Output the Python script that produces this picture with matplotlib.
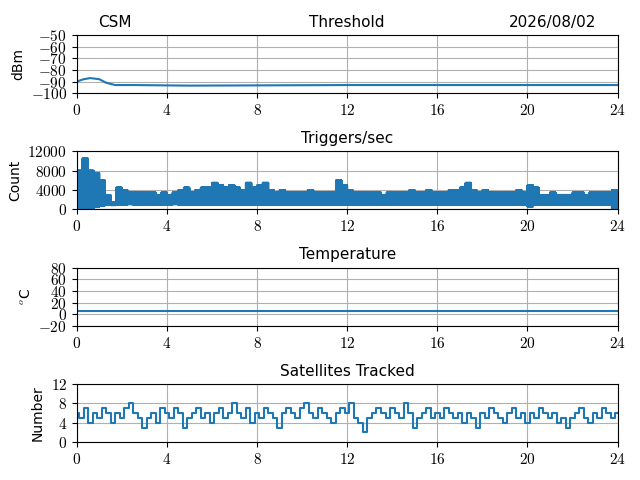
import numpy as np
import matplotlib
matplotlib.use('Agg')
import matplotlib.pyplot as plt

plt.rcParams['mathtext.fontset'] = 'cm'
plt.rcParams['font.family'] = 'DejaVu Sans'

# threshold (dBm)
thr_t = [0, 0.3, 0.6, 1.0, 1.3, 1.7, 2.5, 5, 12, 24]
thr_v = [-90, -88, -87, -88, -91, -93, -93, -93.5, -93, -93]

# triggers/sec envelope, every 0.25 h: lows and highs
trig_lo = [0, 200, 0, 500, 800, 1000, 900, 1000, 1000, 1100, 1000, 1000,
           1000, 1000, 1000, 1000, 1000, 1100, 1000, 1000, 1000, 1000, 1000, 1000,
           1000, 1000, 1000, 1000, 1000, 1000, 1000, 1000, 1000, 1000, 1000, 1000,
           1000, 1000, 1000, 1000, 1000, 1000, 1000, 1000, 1000, 1000, 1000, 1000,
           1000, 1000, 1000, 1000, 1000, 1000, 1000, 1000, 1000, 1000, 1000, 1000,
           1000, 1000, 1000, 1000, 1000, 1000, 1000, 1000, 1000, 1000, 1000, 1000,
           1000, 1000, 1000, 1000, 1000, 1000, 1000, 1000, 600, 1000, 1000, 1000,
           1000, 1000, 1000, 1000, 1000, 1000, 1000, 1000, 1000, 1000, 1000, 0]
trig_hi = [8000, 10500, 8000, 7500, 6000, 3000, 1500, 4500, 4000, 3500, 3500, 3500,
           3500, 3500, 3000, 3500, 3000, 3500, 4000, 4500, 3500, 4000, 4500, 4500,
           5500, 5000, 4500, 5000, 4500, 4000, 5500, 4500, 5000, 5500, 4000, 3500,
           4000, 3500, 3500, 3500, 3500, 4000, 3500, 3500, 3500, 3500, 6000, 5000,
           4000, 3500, 3500, 3500, 3500, 3500, 3000, 3500, 3500, 3500, 3500, 4000,
           3500, 3500, 4000, 3500, 3500, 3500, 4000, 4000, 4500, 5500, 4000, 3500,
           4000, 3500, 3500, 3500, 3500, 3500, 4000, 3500, 5000, 4500, 3000, 3000,
           3500, 3000, 3000, 3000, 3500, 3500, 3000, 3500, 3500, 3500, 3500, 4000]

# temperature (C)
temp_t = [0, 24]
temp_v = [5, 5]

# satellites tracked, every 0.2 h
sats = [6, 5, 7, 4, 6, 5, 7, 6, 4, 6, 5, 7, 8, 6, 5, 3, 5, 6, 4, 7,
        6, 5, 7, 6, 3, 5, 6, 7, 5, 6, 4, 6, 7, 5, 6, 8, 6, 5, 7, 4,
        6, 5, 7, 6, 5, 3, 6, 7, 6, 5, 7, 8, 6, 5, 7, 6, 5, 4, 6, 7,
        6, 8, 5, 4, 2, 5, 6, 7, 6, 5, 7, 6, 5, 8, 6, 3, 5, 6, 7, 5,
        6, 5, 7, 6, 5, 6, 4, 6, 5, 3, 6, 5, 7, 6, 5, 4, 6, 7, 5, 6,
        4, 6, 5, 7, 6, 5, 6, 4, 5, 3, 5, 6, 7, 5, 4, 6, 5, 7, 6, 5, 6]

# dense sampling: within each 0.25 h block alternate between low and high
n_sub = 40
trig_t = np.arange(len(trig_lo) * n_sub) * (0.25 / n_sub)
trig_v = np.where(np.arange(len(trig_t)) % 2 == 0,
                  np.repeat(trig_lo, n_sub), np.repeat(trig_hi, n_sub))
sat_t = np.arange(len(sats)) * 0.2

fig, axes = plt.subplots(4, 1, figsize=(6.4, 4.8), dpi=100)
fig.subplots_adjust(left=0.12, right=0.965, top=0.927, bottom=0.079, hspace=1.0)

panels = [
    (thr_t, thr_v, 'Threshold', 'dBm', (-100, -50), range(-100, -49, 10), None),
    (trig_t, trig_v, 'Triggers/sec', 'Count', (0, 12000), range(0, 12001, 4000), None),
    (temp_t, temp_v, 'Temperature', r'$^o$C', (-20, 80), range(-20, 81, 20), None),
    (sat_t, sats, 'Satellites Tracked', 'Number', (0, 12), range(0, 13, 4), 'steps-mid'),
]
for ax, (t, v, title, ylab, ylim, yt, ds) in zip(axes, panels):
    if ds:
        ax.plot(t, v, color='#1f77b4', lw=1.5, drawstyle=ds)
    else:
        ax.plot(t, v, color='#1f77b4', lw=1.5)
    ax.set_xlim(0, 24)
    ax.set_ylim(*ylim)
    ax.set_xticks(range(0, 25, 4))
    ax.set_xticklabels([f'${x}$' for x in range(0, 25, 4)], fontsize=11)
    ax.set_yticks(list(yt))
    ax.set_yticklabels([f'${y}$' for y in yt], fontsize=11)
    ax.set_ylabel(ylab)
    ax.set_title(title, fontsize=11)
    ax.grid(True)

axes[0].set_title('CSM', loc='left', fontsize=11, x=0.04)
axes[0].set_title('2026/08/02', loc='right', fontsize=11, x=0.96)

fig.savefig('out.png')
